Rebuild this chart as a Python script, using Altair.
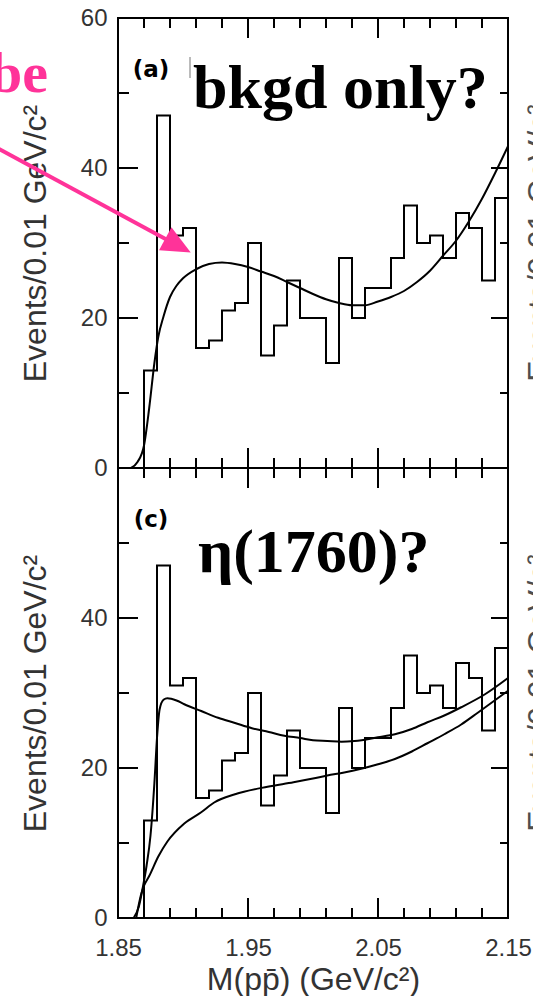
import altair as alt
import pandas as pd

# Events per 0.01 GeV/c^2 bin, bins start at these lower edges
bin_lo = [1.87, 1.88, 1.89, 1.90, 1.91, 1.92, 1.93, 1.94, 1.95, 1.96,
          1.97, 1.98, 1.99, 2.00, 2.01, 2.02, 2.03, 2.04, 2.05, 2.06,
          2.07, 2.08, 2.09, 2.10, 2.11, 2.12, 2.13, 2.14]
counts = [13, 47, 31, 32, 16, 17, 21, 22, 30, 15,
          19, 25, 20, 20, 14, 28, 20, 24, 24, 28,
          35, 30, 31, 28, 34, 32, 25, 36]
BIN_W = 0.01

# (a) background-only fit
fit_a_m = [1.860, 1.865, 1.870, 1.874, 1.878, 1.881, 1.885, 1.890, 1.895, 1.900,
           1.910, 1.920, 1.930, 1.940, 1.950, 1.960, 1.970, 1.980, 1.990, 2.000,
           2.010, 2.020, 2.030, 2.040, 2.050, 2.060, 2.070, 2.080, 2.090, 2.100,
           2.110, 2.120, 2.130, 2.140, 2.150]
fit_a_v = [0.0, 0.8, 3.0, 8.0, 14.0, 17.5, 20.2, 22.8, 24.3, 25.3,
           26.5, 27.2, 27.4, 27.2, 26.8, 26.2, 25.6, 24.8, 24.0, 23.2,
           22.5, 22.0, 21.7, 21.7, 22.2, 22.8, 23.6, 24.8, 26.3, 28.3,
           30.3, 32.9, 35.9, 39.3, 42.9]

# (c) eta(1760) + background fit
fit_c_m = [1.862, 1.866, 1.869, 1.872, 1.875, 1.878, 1.880, 1.882, 1.885, 1.888,
           1.895, 1.901, 1.914, 1.927, 1.940, 1.953, 1.966, 1.978, 1.990, 2.000,
           2.011, 2.022, 2.032, 2.050, 2.063, 2.076, 2.088, 2.101, 2.114, 2.132,
           2.150]
fit_c_v = [0.0, 1.5, 4.0, 7.0, 11.0, 18.0, 24.0, 27.8, 29.1, 29.3,
           29.0, 28.5, 27.6, 26.7, 26.0, 25.3, 24.8, 24.3, 24.0, 23.7,
           23.6, 23.5, 23.6, 24.1, 24.5, 25.2, 26.1, 27.0, 28.1, 29.8,
           32.0]

# (c) background component
bkg_c_m = [1.864, 1.866, 1.868, 1.870, 1.874, 1.881, 1.888, 1.901, 1.914, 1.924,
           1.940, 1.965, 1.985, 2.000, 2.011, 2.024, 2.037, 2.050, 2.063, 2.076,
           2.088, 2.101, 2.114, 2.127, 2.150]
bkg_c_v = [0.0, 1.8, 3.3, 4.3, 5.6, 8.2, 10.2, 12.6, 14.1, 15.4,
           16.5, 17.5, 18.1, 18.6, 19.0, 19.4, 19.9, 20.5, 21.2, 22.2,
           23.3, 24.5, 25.8, 27.4, 30.3]

x_labels = [1.85, 1.95, 2.05, 2.15]
x_major = [1.95, 2.05]
x_minor = [1.87, 1.89, 1.91, 1.93, 1.97, 1.99, 2.01, 2.03, 2.07, 2.09, 2.11, 2.13]
y_major = [20, 40]
y_minor = [10, 30, 50]

Y_TITLE = "Events/0.01 GeV/c\u00b2"
X_TITLE = "M(pp\u0304) (GeV/c\u00b2)"

W, H = 390, 450
INK = "#333333"
PINK = "#FF3399"
SANS = "Liberation Sans"
SERIF = "Liberation Serif"

XS = alt.Scale(domain=[1.85, 2.15], nice=False, zero=False)
YS = alt.Scale(domain=[0, 60], nice=False, zero=True)

# step outline of the histogram
step_rows = [{"m": bin_lo[0], "v": 0, "o": 0}]
for i, (lo, c) in enumerate(zip(bin_lo, counts)):
    step_rows.append({"m": lo, "v": c, "o": 2 * i + 1})
    step_rows.append({"m": round(lo + BIN_W, 3), "v": c, "o": 2 * i + 2})
hist_df = pd.DataFrame(step_rows)

one = pd.DataFrame({"k": [0]})


def x_enc(show):
    if not show:
        return alt.X("m:Q", scale=XS, axis=None)
    return alt.X("m:Q", scale=XS, axis=alt.Axis(
        values=x_labels, format=".2f", ticks=False, domain=False, grid=False,
        labelFlush=False, labelOverlap=False, labelFont=SANS, labelFontSize=24,
        labelColor=INK, labelPadding=18,
        title=X_TITLE, titleFont=SANS, titleFontSize=32,
        titleFontWeight="normal", titleColor=INK, titlePadding=4))


def y_enc(labels):
    return alt.Y("v:Q", scale=YS, axis=alt.Axis(
        values=labels, ticks=False, domain=False, grid=False,
        labelFlush=False, labelOverlap=False, labelFont=SANS, labelFontSize=24,
        labelColor=INK, labelPadding=11,
        title=Y_TITLE, titleFont=SANS, titleFontSize=32,
        titleFontWeight="normal", titleColor=INK, titlePadding=28))


def frame_ticks(X, Y):
    rule = dict(color="black", strokeWidth=2)
    layers = []
    for vals, ln in ((y_major, 20), (y_minor, 11)):
        d = pd.DataFrame({"v": vals})
        layers.append(alt.Chart(d).mark_rule(**rule).encode(
            y=Y, x=alt.value(0), x2=alt.value(ln)))
        layers.append(alt.Chart(d).mark_rule(**rule).encode(
            y=Y, x=alt.value(W), x2=alt.value(W - ln + 3)))
    for vals, ln in ((x_major, 20), (x_minor, 10)):
        d = pd.DataFrame({"m": vals})
        layers.append(alt.Chart(d).mark_rule(**rule).encode(
            x=X, y=alt.value(H), y2=alt.value(H - ln)))
        layers.append(alt.Chart(d).mark_rule(**rule).encode(
            x=X, y=alt.value(0), y2=alt.value(ln)))
    return layers


def curve(ms, vs, X, Y):
    d = pd.DataFrame({"m": ms, "v": vs})
    return alt.Chart(d).mark_line(color="black", strokeWidth=2,
                                  interpolate="monotone").encode(x=X, y=Y)


def panel(letter, show_x, y_labels, fits, extra):
    X = x_enc(show_x)
    Y = y_enc(y_labels)
    hist = alt.Chart(hist_df).mark_line(color="black", strokeWidth=2).encode(
        x=X, y=Y, order="o:Q")
    layers = [hist] + [curve(ms, vs, X, Y) for ms, vs in fits]
    layers += frame_ticks(X, Y)
    layers.append(alt.Chart(one).mark_text(
        text=letter, font="DejaVu Sans", fontWeight="bold", fontSize=23,
        align="center", baseline="middle", color="black").encode(
        x=alt.value(33), y=alt.value(52)))
    # axis title of the neighbouring panel, only its edge shows
    layers.append(alt.Chart(one).mark_text(
        text=Y_TITLE, font=SANS, fontSize=32, angle=270, align="center",
        baseline="top", color="#3a3a3a", opacity=0.9).encode(
        x=alt.value(W + 17), y=alt.value(H / 2)))
    layers += extra
    return alt.layer(*layers).properties(width=W, height=H)


top_notes = [
    alt.Chart(one).mark_rule(color="#777777", strokeWidth=1).encode(
        x=alt.value(72), y=alt.value(39), y2=alt.value(60)),
    alt.Chart(one).mark_text(
        text="bkgd only?", font=SERIF, fontWeight="bold", fontSize=62,
        align="left", baseline="alphabetic", color="black").encode(
        x=alt.value(75), y=alt.value(90)),
    alt.Chart(one).mark_text(
        text="be", font=SERIF, fontWeight="bold", fontSize=58,
        align="right", baseline="alphabetic", color=PINK).encode(
        x=alt.value(-70), y=alt.value(74)),
    alt.Chart(one).mark_rule(color=PINK, strokeWidth=4).encode(
        x=alt.value(-140), y=alt.value(119.6),
        x2=alt.value(48), y2=alt.value(221.3)),
    alt.Chart(one).mark_point(
        shape="M1,0L-1,-0.9L-1,0.9Z", filled=True, color=PINK, opacity=1,
        size=841, angle=28.4, strokeWidth=0).encode(
        x=alt.value(60), y=alt.value(227.6)),
]

bottom_notes = [
    alt.Chart(one).mark_text(
        text="\u03b7(1760)?", font=SERIF, fontWeight="bold", fontSize=62,
        align="left", baseline="alphabetic", color="black").encode(
        x=alt.value(80), y=alt.value(103.7)),
]

top = panel("(a)", False, [0, 20, 40, 60], [(fit_a_m, fit_a_v)], top_notes)
bottom = panel("(c)", True, [0, 20, 40],
               [(fit_c_m, fit_c_v), (bkg_c_m, bkg_c_v)], bottom_notes)

chart = alt.vconcat(top, bottom, spacing=0, bounds="flush").properties(
    padding={"left": -25, "top": 5, "right": -24, "bottom": 0},
    background="white",
).configure_view(stroke="black", strokeWidth=2)

chart.save("out.html", embed_options={"renderer": "svg", "actions": False})
